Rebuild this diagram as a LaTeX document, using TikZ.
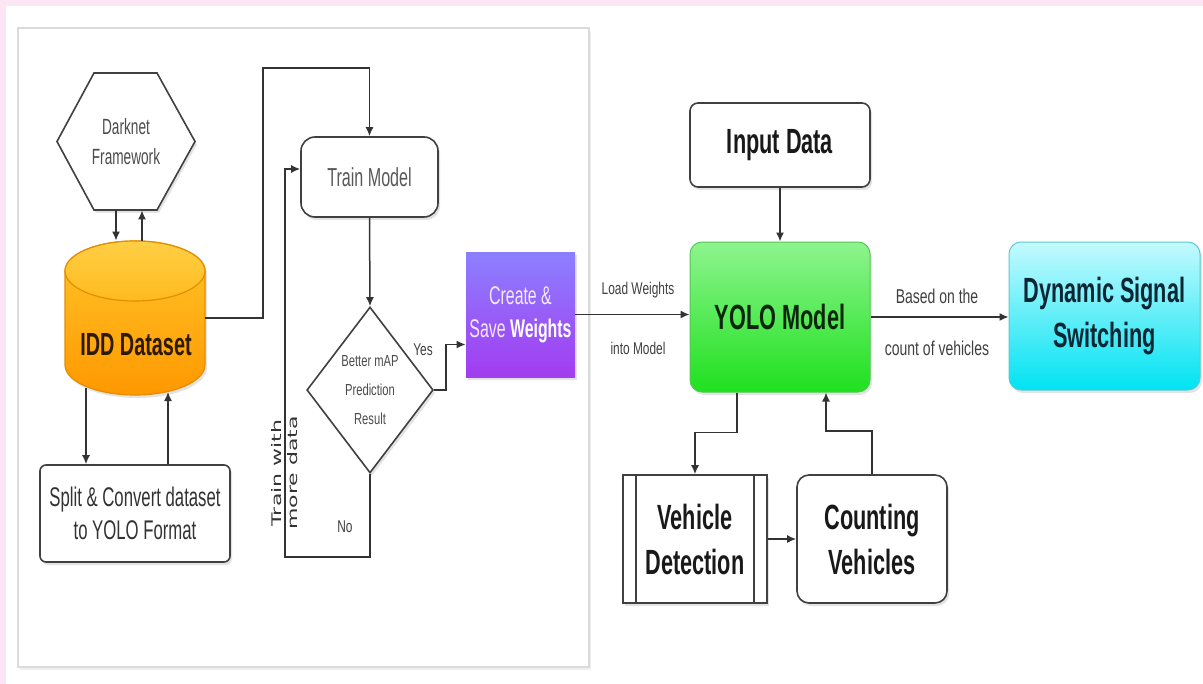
\documentclass[tikz,border=0pt]{standalone}
\usepackage{fontspec}
\setmainfont{Liberation Sans}
\newfontfamily\nar[FakeStretch=0.62]{Liberation Sans}
\newfontfamily\narb[FakeStretch=0.7]{Liberation Sans}
\newfontfamily\dvs{DejaVu Sans}
\usetikzlibrary{shapes.geometric,arrows.meta,shadows,calc}
\definecolor{pinkbg}{HTML}{FCE6F6}
\definecolor{cylTop}{HTML}{FFC629}
\definecolor{cylBot}{HTML}{FF9800}
\definecolor{cylEdge}{HTML}{E38E00}
\definecolor{cylCapTop}{HTML}{FFCF45}
\definecolor{cylCapBot}{HTML}{FFBA1E}
\definecolor{crTop}{HTML}{8C80FF}
\definecolor{crBot}{HTML}{A23CF0}
\definecolor{crTxt}{HTML}{F3E8FF}
\definecolor{ylTop}{HTML}{8EF48E}
\definecolor{ylBot}{HTML}{1FE01F}
\definecolor{ylEdge}{HTML}{55C855}
\definecolor{dyTop}{HTML}{C4FAFF}
\definecolor{dyBot}{HTML}{00E3F2}
\definecolor{dyEdge}{HTML}{5FC8D0}
\definecolor{ylTxt}{HTML}{0B260B}
\definecolor{dyTxt}{HTML}{0C2634}
\definecolor{iddTxt}{HTML}{2E1A00}
\tikzset{
  conn/.style={draw=black!80, line width=0.75pt},
  arr/.style={conn, -{Latex[length=4.5pt,width=4pt]}},
  shad/.style={drop shadow={opacity=0.22,shadow xshift=1pt,shadow yshift=-1.5pt}},
  whitebox/.style={draw=black!75, fill=white, line width=0.8pt, shad, inner sep=0pt, align=center},
  bigtxt/.style={font=\nar\bfseries\fontsize{17.5}{22.5}\selectfont},
  lbl/.style={inner sep=0pt, text=black!75},
}
\begin{document}
\begin{tikzpicture}[x=0.5pt,y=-0.5pt]
\useasboundingbox (0,0) rectangle (1203,684);
% background
\fill[white] (0,0) rectangle (1203,684);
\fill[pinkbg] (0,0) rectangle (1203,6);
\fill[pinkbg] (0,0) rectangle (6,684);
% left panel
\draw[draw=black!14, line width=1pt, fill=white, drop shadow={opacity=0.12,shadow xshift=1pt,shadow yshift=-1.5pt}] (18,28) rectangle (589,667);

% hexagon shape
\draw[draw=black!75, fill=white, line width=0.8pt, shad] (57,141.5) -- (94,73) -- (157,73) -- (195,141.5) -- (157,210) -- (94,210) -- cycle;
\node[lbl, minimum width=69pt, minimum height=68.5pt, align=center, text=black!70, font=\nar\fontsize{11}{15}\selectfont] (dark) at (126,141.5) {Darknet\\Framework};

% cylinder
\path[shad, top color=cylTop, bottom color=cylBot, draw=cylEdge, line width=0.6pt]
  (65,271) -- (65,365) arc[start angle=180,end angle=360,x radius=35pt,y radius=15pt] -- (205,271)
  arc[start angle=0,end angle=180,x radius=35pt,y radius=15pt] -- cycle;
\path[top color=cylCapTop, bottom color=cylCapBot, draw=cylEdge, line width=0.6pt] (135,271) ellipse[x radius=35pt,y radius=15pt];
\node[inner sep=0pt, minimum width=70pt, minimum height=77pt, text=iddTxt, font=\nar\bfseries\fontsize{16}{20}\selectfont] (idd) at (135,318) {};
\node[inner sep=0pt, text=iddTxt, font=\nar\bfseries\fontsize{16}{20}\selectfont] (iddlabel) at (136,345) {IDD Dataset};

% split box
\node[whitebox, rounded corners=3pt, minimum width=95pt, minimum height=48.5pt, text=black!80, font=\nar\fontsize{13.5}{16.5}\selectfont] (split) at (135,513.5) {Split \& Convert dataset\\to YOLO Format};

% train model
\node[whitebox, rounded corners=7pt, minimum width=68.5pt, minimum height=40pt, text=black!65, font=\nar\fontsize{13}{16}\selectfont] (train) at (369.5,177) {Train Model};

% decision
\node[draw=black!75, fill=white, line width=0.8pt, shad, diamond, inner sep=0pt, minimum width=62pt, minimum height=83pt, align=center, text=black!70, font=\narb\fontsize{8}{14.5}\selectfont] (dec) at (370,390) {Better mAP\\Prediction\\Result};

% create & save weights
\node[shad, top color=crTop, bottom color=crBot, draw=none, inner sep=0pt, minimum width=54.5pt, minimum height=62.5pt, align=center, text=crTxt, font=\nar\fontsize{12.8}{16.5}\selectfont] (create) at (520.5,314.5) {Create \&\\Save {\bfseries\color{white}Weights}};

% input data
\node[whitebox, rounded corners=4pt, minimum width=90pt, minimum height=42pt, bigtxt, text=black!90] (input) at (780,145) {Input Data};

% yolo model
\node[shad, rounded corners=6pt, top color=ylTop, bottom color=ylBot, draw=ylEdge, line width=0.5pt, inner sep=0pt, minimum width=90pt, minimum height=75pt, bigtxt, text=ylTxt] (yolo) at (780,317) {YOLO Model};

% dynamic signal switching
\node[shad, rounded corners=6pt, top color=dyTop, bottom color=dyBot, draw=dyEdge, line width=0.5pt, inner sep=0pt, minimum width=95.5pt, minimum height=74pt, align=center, bigtxt, text=dyTxt] (dyn) at (1104.5,316) {Dynamic Signal\\Switching};

% vehicle detection
\node[whitebox, minimum width=72pt, minimum height=64pt, bigtxt, text=black!90] (vd) at (695,539) {Vehicle\\Detection};
\draw[draw=black!75, line width=0.8pt] ([xshift=7pt]vd.north west) -- ([xshift=7pt]vd.south west);
\draw[draw=black!75, line width=0.8pt] ([xshift=-7pt]vd.north east) -- ([xshift=-7pt]vd.south east);

% counting vehicles
\node[whitebox, rounded corners=6pt, minimum width=75pt, minimum height=64pt, bigtxt, text=black!90] (cv) at (872,539) {Counting\\Vehicles};

% connectors
\draw[arr] (dark.south -| 116,0) -- (idd.north -| 116,0);
\draw[arr] (idd.north -| 142,0) -- (dark.south -| 142,0);
\draw[arr] (86,388) -- (split.north -| 86,0);
\draw[arr] (split.north -| 168,0) -- (168,392);
\draw[arr] (idd.east) -| (263,68) -| (train.north);
\draw[arr] (train.south) -- (dec.north);
\draw[arr] (dec.east) -- ++(12,0) |- ([yshift=-15pt]create.west);
\draw[arr] (dec.south) |- (285,557) |- ([yshift=4pt]train.west);
\draw[arr] (create.east) -- (create.east -| yolo.west);
\draw[arr] (input.south) -- (yolo.north);
\draw[arr] (yolo.east) -- (yolo.east -| dyn.west);
\draw[arr] ([xshift=-21.5pt]yolo.south) -- ++(0,40) -| (vd.north);
\draw[arr] (cv.north) -- ++(0,-43) -| ([xshift=23pt]yolo.south);
\draw[arr] (vd.east) -- (cv.west);

% labels
\node[lbl, font=\narb\fontsize{8.5}{10}\selectfont] (yes) at (423,350) {Yes};
\node[lbl, font=\narb\fontsize{8.5}{10}\selectfont] (no) at (345,527) {No};
\node[lbl, font=\narb\fontsize{8.5}{10}\selectfont] (lw1) at (638,290) {Load Weights};
\node[lbl, font=\narb\fontsize{8.5}{10}\selectfont] (lw2) at (638,348) {into Model};
\node[lbl, font=\narb\fontsize{10}{12}\selectfont] (bo1) at (937,296) {Based on the};
\node[lbl, font=\narb\fontsize{10}{12}\selectfont] (bo2) at (937,348) {count of vehicles};
\node[lbl, rotate=90, text=black!80] (more) at (286,473) {\scalebox{1}[0.6]{\dvs\fontsize{11}{13.5}\selectfont\begin{tabular}{@{}c@{}}Train with\\more data\end{tabular}}};
\end{tikzpicture}
\end{document}
